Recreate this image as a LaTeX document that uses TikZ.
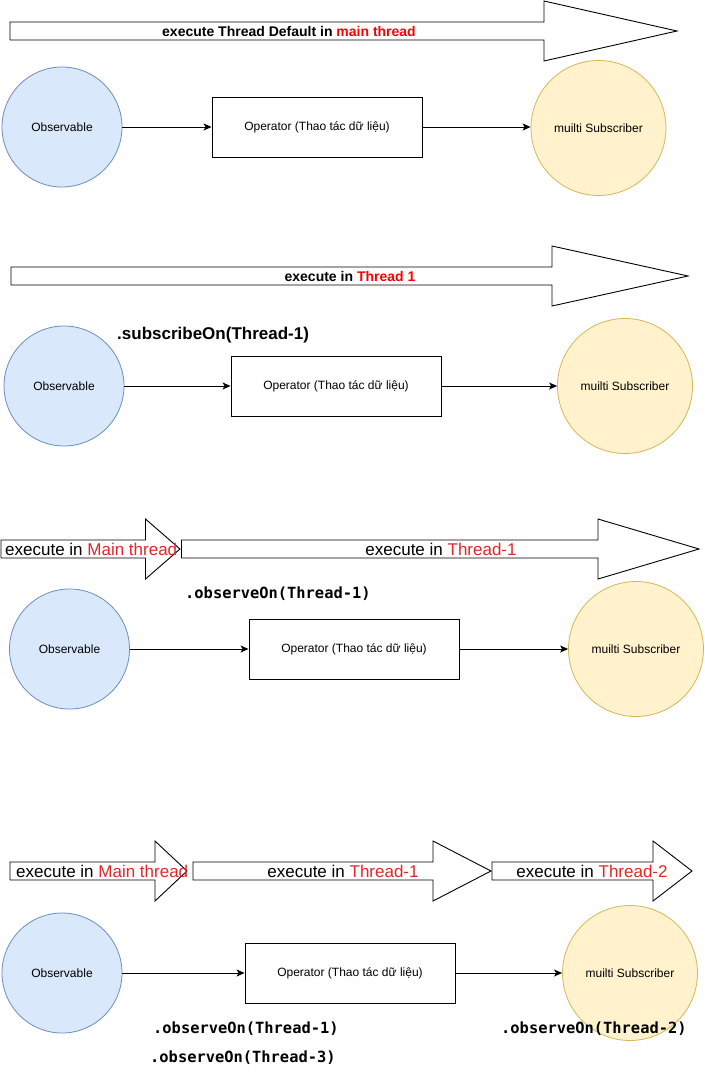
\documentclass[tikz,border=0pt]{standalone}
\usepackage{fontspec}
\setmainfont{Liberation Sans}
\newfontfamily\codefont{DejaVu Sans Mono}
\usetikzlibrary{arrows.meta,shapes.geometric}
\definecolor{obsfill}{HTML}{DAE8FC}
\definecolor{obsdraw}{HTML}{6C8EBF}
\definecolor{subfill}{HTML}{FFF2CC}
\definecolor{subdraw}{HTML}{D6B656}
\definecolor{redA}{HTML}{FF0000}
\definecolor{redB}{HTML}{E02828}
\tikzset{
  obs/.style={ellipse, draw=obsdraw, fill=obsfill, line width=0.8pt, minimum width=120pt, minimum height=120pt, inner sep=0pt, font=\fontsize{12}{14}\selectfont},
  sub/.style={ellipse, draw=subdraw, fill=subfill, line width=0.8pt, minimum width=135pt, minimum height=135pt, inner sep=0pt, font=\fontsize{12}{14}\selectfont},
  opbox/.style={rectangle, draw=black, line width=0.9pt, minimum width=210pt, minimum height=60pt, inner sep=0pt, font=\fontsize{12}{14}\selectfont},
  conn/.style={draw=black, line width=0.9pt, -{Stealth[length=8pt,width=7pt,inset=2pt]}},
  bigarrow/.style={draw=black, line width=0.9pt, fill=white, line join=miter},
  boldlbl/.style={inner sep=0pt, font=\fontsize{14}{16}\selectfont\bfseries},
  biglbl/.style={inner sep=0pt, font=\fontsize{17}{19}\selectfont},
  sublbl/.style={inner sep=0pt, font=\fontsize{17}{19}\selectfont\bfseries},
  codelbl/.style={inner sep=0pt, font=\fontsize{15.4}{18}\selectfont\codefont\bfseries},
}
\begin{document}
\begin{tikzpicture}[x=1pt, y=-1pt]
\useasboundingbox[fill=white] (0,0) rectangle (704,1081);

% ---------- Section 1 ----------
\draw[bigarrow] (10,22) -- (544,22) -- (544,1) -- (677,31) -- (544,61) -- (544,40) -- (10,40) -- cycle;
\node[boldlbl] (t1) at (289,31) {execute Thread Default in \textcolor{redA}{main thread}};
\node[obs] (o1) at (62,127) {Observable};
\node[opbox] (p1) at (317,127) {Operator (Thao tác dữ liệu)};
\node[sub] (s1) at (598.5,128) {muilti Subscriber};
\draw[conn] (o1.east) -- (p1.west);
\draw[conn] (p1.east) -- (p1.east -| s1.west);

% ---------- Section 2 ----------
\draw[bigarrow] (11,267) -- (552,267) -- (552,246) -- (688,276) -- (552,306) -- (552,285) -- (11,285) -- cycle;
\node[boldlbl] (t2) at (350,276) {execute in \textcolor{redA}{Thread 1}};
\node[sublbl, anchor=west] (c2) at (117,335.5) {.subscribeOn(Thread-1)};
\node[obs] (o2) at (64,386) {Observable};
\node[opbox] (p2) at (336,386) {Operator (Thao tác dữ liệu)};
\node[sub] (s2) at (625,386) {muilti Subscriber};
\draw[conn] (o2.east) -- (p2.west);
\draw[conn] (p2.east) -- (p2.east -| s2.west);

% ---------- Section 3 ----------
\draw[bigarrow] (1,540) -- (145.5,540) -- (145.5,519) -- (180,549) -- (145.5,579) -- (145.5,558) -- (1,558) -- cycle;
\draw[bigarrow] (181.5,540) -- (598,540) -- (598,519) -- (699,549) -- (598,579) -- (598,558) -- (181.5,558) -- cycle;
\node[biglbl, anchor=west] (t3a) at (5,549) {execute in \textcolor{redB}{Main thread}};
\node[biglbl] (t3b) at (441,549) {execute in \textcolor{redB}{Thread-1}};
\node[codelbl, anchor=west] (c3) at (185,593.5) {.observeOn(Thread-1)};
\node[obs] (o3) at (69.5,649) {Observable};
\node[opbox] (p3) at (354,649) {Operator (Thao tác dữ liệu)};
\node[sub] (s3) at (636,649) {muilti Subscriber};
\draw[conn] (o3.east) -- (p3.west);
\draw[conn] (p3.east) -- (p3.east -| s3.west);

% ---------- Section 4 ----------
\draw[bigarrow] (10,862) -- (155,862) -- (155,841) -- (187,871) -- (155,901) -- (155,880) -- (10,880) -- cycle;
\draw[bigarrow] (193,862) -- (433,862) -- (433,841) -- (491,871) -- (433,901) -- (433,880) -- (193,880) -- cycle;
\draw[bigarrow] (492,862) -- (653,862) -- (653,841) -- (692,871) -- (653,901) -- (653,880) -- (492,880) -- cycle;
\node[biglbl, anchor=west] (t4a) at (16,871) {execute in \textcolor{redB}{Main thread}};
\node[biglbl] (t4b) at (343,871) {execute in \textcolor{redB}{Thread-1}};
\node[biglbl] (t4c) at (592,871) {execute in \textcolor{redB}{Thread-2}};
\node[obs] (o4) at (62,973) {Observable};
\node[opbox] (p4) at (350,973) {Operator (Thao tác dữ liệu)};
\node[sub] (s4) at (630,973) {muilti Subscriber};
\draw[conn] (o4.east) -- (p4.west);
\draw[conn] (p4.east) -- (p4.east -| s4.west);
\node[codelbl, anchor=west] (c4a) at (153,1029) {.observeOn(Thread-1)};
\node[codelbl, anchor=west] (c4b) at (150,1057.5) {.observeOn(Thread-3)};
\node[codelbl, anchor=west] (c4c) at (501,1029) {.observeOn(Thread-2)};
\end{tikzpicture}
\end{document}
